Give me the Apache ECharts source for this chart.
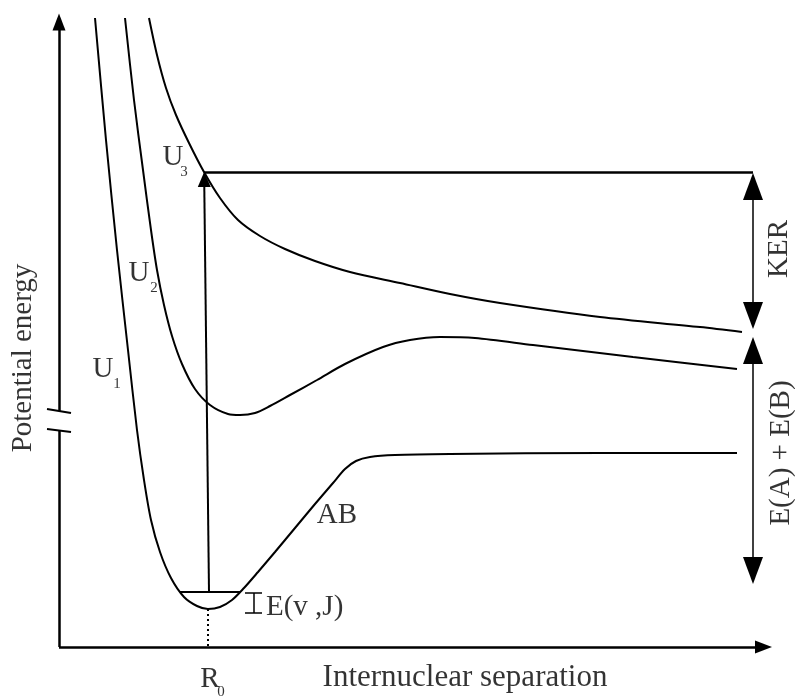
<!DOCTYPE html>
<html><head><meta charset="utf-8">
<script src="https://cdn.jsdelivr.net/npm/echarts@6/dist/echarts.min.js"></script>
<style>html,body{margin:0;padding:0;background:#fff}#c{width:795px;height:696px}</style>
</head><body><div id="c"></div>
<script>
// ---- data (arbitrary units: separation R, potential energy U) ----
const curveU1 = [[3.6,62.9],[4.7,50.7],[5.8,39.7],[6.9,29.7],[7.8,21.7],[8.5,16.7],[9.2,12.7],[10.1,9.5],[11.2,6.9],[12.5,5.0],[13.8,4.1],[14.9,3.8],[16.1,4.0],[17.3,4.7],[18.5,5.9],[19.9,7.5],[21.6,9.5],[23.6,11.9],[25.6,14.3],[27.4,16.4],[28.6,17.8],[29.7,18.6],[31.1,19.0],[33.6,19.2],[39.1,19.3],[54.1,19.4],[67.8,19.4]];
const curveU2 = [[6.6,62.9],[7.5,54.7],[8.4,47.7],[9.2,41.7],[9.8,37.7],[10.5,34.2],[11.3,31.1],[12.3,28.3],[13.6,25.8],[15.1,24.2],[16.9,23.3],[18.1,23.2],[19.6,23.4],[21.1,24.1],[23.1,25.2],[25.8,26.7],[28.6,28.3],[32.4,30.0],[35.1,30.7],[38.1,31.0],[41.6,30.9],[47.4,30.2],[57.4,29.0],[67.8,27.8]];
const curveU3 = [[9.0,62.9],[9.8,59.2],[10.7,55.9],[11.7,53.2],[13.0,50.4],[14.5,47.5],[16.1,44.9],[17.9,42.7],[20.1,41.1],[22.6,39.8],[25.6,38.6],[29.1,37.5],[34.1,36.4],[39.1,35.3],[44.1,34.4],[54.1,33.0],[64.1,32.0],[68.3,31.5]];
const R0 = 14.9;           // equilibrium separation
const wellBottom = 3.8;    // minimum of AB well
const vibLevel = 5.5;      // E(v,J) level
const vibRange = [12.1, 18.1];
const U3atR0 = 47.5;       // vertical transition end
const transitionStartR = 15.0;
const energyBarR = 69.4;
const yBreak = [21.6, 23.6];
const axisTop = 62.5, axisRight = 70.45;
const labelTexts = ['Potential energy','Internuclear separation','R','0','U','3','U','2','U','1','AB','E(v ,J)','KER','E(A) + E(B)'];

// ---- layout / annotations ----
const FONT = 'Liberation Serif';
const labelLayout = [
  {at:[-3.6,28.9], size:29, rotate:90},
  {at:[40.6,-3.1], size:31},
  {at:[15.1,-3.2], size:29},
  {at:[16.2,-4.5], size:15},
  {at:[11.4,49.0], size:29},
  {at:[12.5,47.5], size:15},
  {at:[8.0,37.4], size:29},
  {at:[9.5,35.9], size:15},
  {at:[4.4,27.8], size:29},
  {at:[5.8,26.3], size:15},
  {at:[27.8,13.2], size:29},
  {at:[20.7,4.0], size:29, left:true},
  {at:[72.0,39.8], size:29, rotate:90},
  {at:[72.2,19.4], size:29, rotate:90}
];

const black = '#000';
function curve(name, data) {
  return {type:'line', name, data, smooth:0.3, symbol:'none', silent:true,
    lineStyle:{color:black, width:2}, z:3};
}
function seg(coords, width, opts) {
  return Object.assign({type:'lines', coordinateSystem:'cartesian2d', silent:true, z:4,
    data:[{coords}], symbol:'none', lineStyle:{color:black, width, opacity:1, curveness:0}}, opts || {});
}
const axisHead = [13,17], smallHead = [13,15], bigHead = [20,27];
const series = [
  curve('U1', curveU1), curve('U2', curveU2), curve('U3', curveU3),
  // axes
  seg([[0,0],[axisRight,0]], 2.5, {symbol:['none','triangle'], symbolSize:[axisHead, axisHead]}),
  seg([[0,yBreak[1]],[0,axisTop]], 2.5, {symbol:['none','triangle'], symbolSize:[axisHead, axisHead]}),
  seg([[0,0],[0,yBreak[0]]], 2.5),
  seg([[-1.2,23.8],[1.2,23.4]], 2),
  seg([[-1.2,21.8],[1.2,21.5]], 2),
  // vertical transition
  seg([[transitionStartR,vibLevel],[14.52,46.75]], 2, {symbol:['none','triangle'], symbolSize:[smallHead, smallHead]}),
  seg([[14.5,U3atR0],[energyBarR,U3atR0]], 2.5),
  // KER and E(A)+E(B) double arrows
  seg([[energyBarR,46.05],[energyBarR,33.15]], 1.5, {symbol:['triangle','triangle'], symbolSize:[bigHead, bigHead]}),
  seg([[energyBarR,29.65],[energyBarR,7.65]], 1.5, {symbol:['triangle','triangle'], symbolSize:[bigHead, bigHead]}),
  // vibrational level
  seg([[vibRange[0],vibLevel],[vibRange[1],vibLevel]], 2),
  seg([[R0,wellBottom],[R0,0]], 2, {lineStyle:{color:black,width:2,type:[2,3],opacity:1}}),
  // E(v,J) marker
  seg([[19.5,5.4],[19.5,3.4]], 1.5),
  seg([[18.6,5.4],[20.3,5.4]], 1.5),
  seg([[18.6,3.4],[20.3,3.4]], 1.5),
  // labels
  {type:'scatter', symbolSize:0, silent:true, z:5,
    data: labelTexts.map((t,i) => {
      const L = labelLayout[i];
      return {value:L.at, label:{show:true, formatter:t, position: L.left ? 'right' : 'inside', distance:0,
        rotate:L.rotate||0, fontFamily:FONT, fontSize:L.size, color:black,
        align: L.left ? 'left' : 'center', verticalAlign:'middle'}};
    })}
];

const chart = echarts.init(document.getElementById('c'), null, {renderer:'canvas'});
chart.setOption({
  animation:false,
  backgroundColor:'#fff',
  grid:{left:0,right:0,top:0,bottom:0},
  xAxis:{type:'value', min:-5.9, max:73.6, show:false},
  yAxis:{type:'value', min:-4.9, max:64.7, show:false},
  series
});
</script></body></html>
